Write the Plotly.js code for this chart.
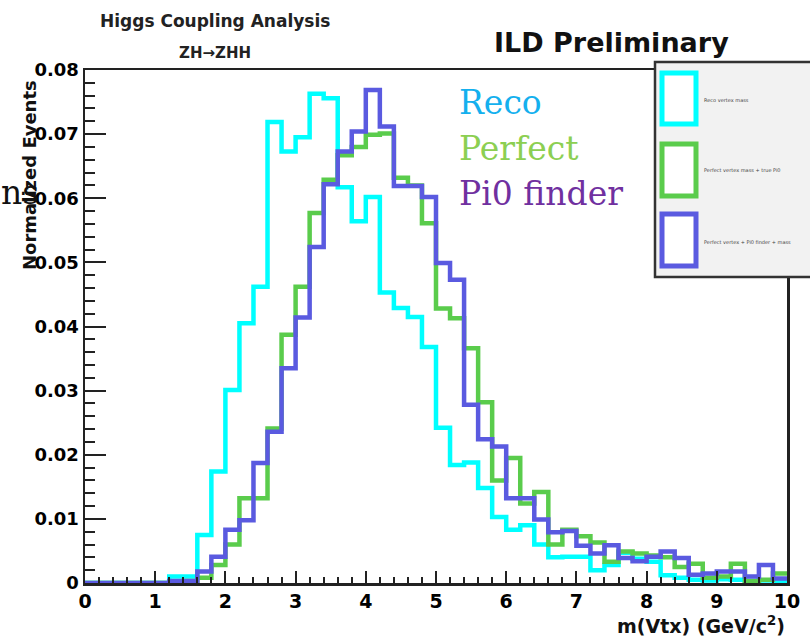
<!DOCTYPE html>
<html>
<head>
<meta charset="utf-8">
<script src="https://cdn.plot.ly/plotly-3.0.1.min.js"></script>
<style>
  html, body { margin: 0; padding: 0; background: #ffffff; }
  #chart { width: 810px; height: 641px; }
</style>
</head>
<body>
<div id="chart"></div>
<script>
// ---- Data (normalized events per 0.2 GeV bin, 0 - 10 GeV) ----
const binStart = 0;
const binWidth = 0.2;

const recoVals = [0,0,0,0,0,0,0.001,0.001,0.0075,0.0174,
  0.0301,0.0405,0.0462,0.0719,0.0673,0.0695,0.0763,0.0756,0.0617,0.0564,
  0.0602,0.0453,0.0429,0.0415,0.0368,0.0242,0.0184,0.0188,0.0148,0.0103,
  0.0083,0.009,0.006,0.004,0.0041,0.0041,0.002,0.0028,0.0047,0.0038,
  0.0033,0.0012,0.0008,0.0005,0.0004,0.0006,0.0005,0.0003,0.0004,0.0003];

const perfectVals = [0,0,0,0,0,0,0.0002,0.0003,0.0008,0.0028,
  0.006,0.0132,0.0132,0.0241,0.0387,0.0462,0.0577,0.0629,0.0667,0.068,
  0.0699,0.0701,0.0632,0.062,0.0561,0.0428,0.0413,0.0366,0.0282,0.016,
  0.0195,0.0124,0.0142,0.006,0.0083,0.0073,0.0063,0.0033,0.0049,0.0046,
  0.0043,0.004,0.0025,0.003,0.0008,0.001,0.003,0.0003,0.0005,0.0015];

const pi0Vals = [0,0,0,0,0,0,0.0003,0.0003,0.0018,0.0041,
  0.0083,0.0098,0.0187,0.0236,0.0335,0.0414,0.0524,0.0622,0.0673,0.0704,
  0.0769,0.0712,0.0619,0.0619,0.0602,0.0499,0.0473,0.0278,0.0224,0.0213,
  0.0132,0.0132,0.0099,0.0079,0.0081,0.0058,0.0046,0.0059,0.0039,0.0034,
  0.0041,0.0049,0.0039,0.0013,0.0015,0.0018,0.0018,0.001,0.0028,0.0007];

const seriesNames = ["Reco", "Perfect", "Pi0 finder"];
const legendSmallText = ["Reco vertex mass", "Perfect vertex mass + true Pi0", "Perfect vertex + Pi0 finder + mass"];

const titleMain = "Higgs Coupling Analysis";
const titleSub = "ZH\u2192ZHH";
const titleRight = "ILD Preliminary";
const xTitle = "m(Vtx) (GeV/c<sup>2</sup>)";
const yTitle = "Normalized Events";

// ---- Build step outlines from bin edges ----
function stepTrace(vals, color, name) {
  const xs = [], ys = [];
  for (let i = 0; i <= vals.length; i++) {
    xs.push(+(binStart + i * binWidth).toFixed(4));
    ys.push(i < vals.length ? vals[i] : vals[vals.length - 1]);
  }
  return {
    type: 'scatter', mode: 'lines', name: name,
    x: xs, y: ys,
    line: { shape: 'hv', color: color, width: 4.5 },
    hoverinfo: 'x+y+name', showlegend: false
  };
}

const colReco = '#00ffff', colPerfect = '#5acc4c', colPi0 = '#5a5ae0';

const traces = [
  stepTrace(recoVals, colReco, seriesNames[0]),
  stepTrace(perfectVals, colPerfect, seriesNames[1]),
  stepTrace(pi0Vals, colPi0, seriesNames[2])
];

// pixel helpers for the plot area (l=85, r=787, t=70, b=583)
const L = 85, R = 787, T = 70, B = 583;
const px = v => (v - L) / (R - L);
const py = v => (B - v) / (B - T);

const boldSans = { family: 'DejaVu Sans, Arial, sans-serif', weight: 'bold', color: '#000' };

const layout = {
  width: 810, height: 641,
  margin: { l: L, r: 810 - R, t: T, b: 641 - B, pad: 0 },
  paper_bgcolor: '#ffffff', plot_bgcolor: '#ffffff',
  showlegend: false,
  xaxis: {
    range: [0, 10], dtick: 1, tick0: 0,
    showgrid: false, zeroline: false,
    showline: true, mirror: true, linecolor: '#222', linewidth: 2.5,
    ticks: 'inside', ticklen: 12, tickwidth: 2, tickcolor: '#222',
    minor: { dtick: 0.2, ticks: 'inside', ticklen: 6, tickwidth: 2, tickcolor: '#222', showgrid: false },
    tickfont: Object.assign({}, boldSans, { size: 19 }),
    fixedrange: true
  },
  yaxis: {
    range: [0, 0.08], dtick: 0.01, tick0: 0,
    showgrid: false, zeroline: false,
    showline: true, mirror: true, linecolor: '#222', linewidth: 2.5,
    ticks: 'inside', ticklen: 21, tickwidth: 2, tickcolor: '#222',
    minor: { dtick: 0.002, ticks: 'inside', ticklen: 10, tickwidth: 2, tickcolor: '#222', showgrid: false },
    tickfont: Object.assign({}, boldSans, { size: 18 }),
    fixedrange: true
  },
  shapes: [
    // ROOT legend box (overflows right edge)
    { type: 'rect', xref: 'paper', yref: 'paper', layer: 'above',
      x0: px(655), x1: px(830), y0: py(277), y1: py(62),
      fillcolor: '#f2f2f2', line: { color: '#333', width: 2.5 } },
    { type: 'rect', xref: 'paper', yref: 'paper', layer: 'above',
      x0: px(662), x1: px(696), y0: py(124), y1: py(73),
      fillcolor: '#ffffff', line: { color: colReco, width: 5 } },
    { type: 'rect', xref: 'paper', yref: 'paper', layer: 'above',
      x0: px(662), x1: px(696), y0: py(196), y1: py(144),
      fillcolor: '#ffffff', line: { color: colPerfect, width: 5 } },
    { type: 'rect', xref: 'paper', yref: 'paper', layer: 'above',
      x0: px(662), x1: px(696), y0: py(266), y1: py(214),
      fillcolor: '#ffffff', line: { color: colPi0, width: 5 } }
  ],
  annotations: [
    { text: titleMain, xref: 'paper', yref: 'paper', x: px(215), y: py(21),
      xanchor: 'center', yanchor: 'middle', showarrow: false,
      font: Object.assign({}, boldSans, { size: 17, color: '#222' }) },
    { text: titleSub, xref: 'paper', yref: 'paper', x: px(215), y: py(53),
      xanchor: 'center', yanchor: 'middle', showarrow: false,
      font: Object.assign({}, boldSans, { size: 15, color: '#222' }) },
    { text: titleRight, xref: 'paper', yref: 'paper', x: px(611), y: py(42),
      xanchor: 'center', yanchor: 'middle', showarrow: false,
      font: Object.assign({}, boldSans, { size: 27, color: '#111' }) },
    { text: yTitle, xref: 'paper', yref: 'paper', x: px(29), y: py(175),
      xanchor: 'center', yanchor: 'middle', textangle: -90, showarrow: false,
      font: Object.assign({}, boldSans, { size: 18, color: '#111' }) },
    { text: xTitle, xref: 'paper', yref: 'paper', x: 1, y: py(625),
      xanchor: 'right', yanchor: 'middle', showarrow: false,
      font: Object.assign({}, boldSans, { size: 19, color: '#111' }) },
    { text: seriesNames[0], xref: 'paper', yref: 'paper', x: px(457), y: py(102),
      xanchor: 'left', yanchor: 'middle', showarrow: false,
      font: { family: 'DejaVu Serif, Liberation Serif, serif', size: 33, color: '#14b0ee' } },
    { text: seriesNames[1], xref: 'paper', yref: 'paper', x: px(457), y: py(148),
      xanchor: 'left', yanchor: 'middle', showarrow: false,
      font: { family: 'DejaVu Serif, Liberation Serif, serif', size: 33, color: '#8ccf52' } },
    { text: seriesNames[2], xref: 'paper', yref: 'paper', x: px(457), y: py(193),
      xanchor: 'left', yanchor: 'middle', showarrow: false,
      font: { family: 'DejaVu Serif, Liberation Serif, serif', size: 33, color: '#7030a0' } },
    { text: 'ns', xref: 'paper', yref: 'paper', x: px(-1), y: py(192),
      xanchor: 'left', yanchor: 'middle', showarrow: false,
      font: { family: 'DejaVu Serif, Liberation Serif, serif', size: 33, color: '#111' } },
    { text: legendSmallText[0], xref: 'paper', yref: 'paper', x: px(702), y: py(100),
      xanchor: 'left', yanchor: 'middle', showarrow: false,
      font: { family: 'DejaVu Sans, sans-serif', size: 5, color: '#444' } },
    { text: legendSmallText[1], xref: 'paper', yref: 'paper', x: px(702), y: py(170),
      xanchor: 'left', yanchor: 'middle', showarrow: false,
      font: { family: 'DejaVu Sans, sans-serif', size: 5, color: '#444' } },
    { text: legendSmallText[2], xref: 'paper', yref: 'paper', x: px(702), y: py(242),
      xanchor: 'left', yanchor: 'middle', showarrow: false,
      font: { family: 'DejaVu Sans, sans-serif', size: 5, color: '#444' } }
  ]
};

Plotly.newPlot('chart', traces, layout, { displayModeBar: false, staticPlot: true });
</script>
</body>
</html>
